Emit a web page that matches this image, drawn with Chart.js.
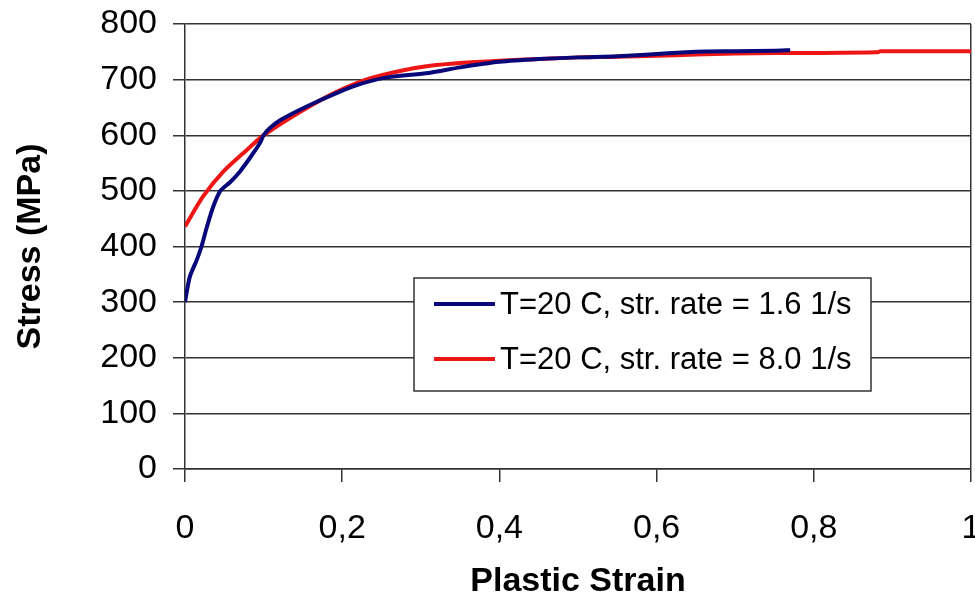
<!DOCTYPE html>
<html>
<head>
<meta charset="utf-8">
<script src="https://cdn.jsdelivr.net/npm/chart.js@4.4.1/dist/chart.umd.min.js"></script>
<style>
  html, body { margin: 0; padding: 0; background: #ffffff; }
  #wrap { width: 975px; height: 602px; }
</style>
</head>
<body>
<div id="wrap"><canvas id="stressChart" width="975" height="602"></canvas></div>
<script>
// Strain / stress readings for each test
const strainSlow = [0, 0.006, 0.015, 0.021, 0.028, 0.036, 0.045, 0.057, 0.070, 0.083, 0.095, 0.10, 0.108, 0.121, 0.145, 0.172, 0.214, 0.257, 0.31, 0.35, 0.40, 0.45, 0.50, 0.55, 0.60, 0.65, 0.70, 0.75, 0.77];
const stressSlow = [300, 345, 376, 400, 436, 472, 500, 515, 535, 560, 585, 600, 613, 627, 645, 663, 688, 704, 712, 722, 732, 737, 740, 742, 746, 750, 751, 752, 753];

const strainFast = [0, 0.023, 0.049, 0.079, 0.10, 0.15, 0.193, 0.235, 0.278, 0.312, 0.35, 0.40, 0.45, 0.50, 0.55, 0.60, 0.65, 0.70, 0.75, 0.80, 0.88, 0.885, 1.0];
const stressFast = [436, 490, 535, 574, 600, 645, 678, 702, 717, 725, 730, 734, 737, 740, 741, 743, 745, 747, 748, 748, 749, 751, 751];

const seriesLabels = ['T=20 C, str. rate = 1.6 1/s', 'T=20 C, str. rate = 8.0 1/s'];
const xTickLabels = ['0', '0,2', '0,4', '0,6', '0,8', '1'];

const FONT = "'Liberation Sans', Arial, sans-serif";
const AXIS = '#333333';

function toPoints(xs, ys) {
    return xs.map((x, i) => ({ x: x, y: ys[i] }));
}

// legend box drawn inside the plot, like the Excel original
const boxLegend = {
    id: 'boxLegend',
    afterDraw(chart) {
        const ctx = chart.ctx;
        const left = 414, top = 278, w = 457, h = 113;
        ctx.save();
        ctx.fillStyle = '#ffffff';
        ctx.fillRect(left, top, w, h);
        ctx.strokeStyle = AXIS;
        ctx.lineWidth = 1.5;
        ctx.strokeRect(left, top, w, h);
        ctx.font = '31px ' + FONT;
        ctx.textBaseline = 'middle';
        ctx.fillStyle = '#000000';
        chart.data.datasets.forEach((ds, i) => {
            const y = top + 26 + i * 55;
            ctx.strokeStyle = ds.borderColor;
            ctx.lineWidth = 4;
            ctx.beginPath();
            ctx.moveTo(left + 20, y);
            ctx.lineTo(left + 81, y);
            ctx.stroke();
            ctx.fillText(ds.label, left + 86, y + 1);
        });
        ctx.restore();
    }
};

const ctx = document.getElementById('stressChart').getContext('2d');
const stressChart = new Chart(ctx, {
    type: 'line',
    data: {
        datasets: [{
            label: seriesLabels[0],
            data: toPoints(strainSlow, stressSlow),
            borderColor: '#08087a',
            borderWidth: 4,
            pointRadius: 0,
            tension: 0.25
        }, {
            label: seriesLabels[1],
            data: toPoints(strainFast, stressFast),
            borderColor: '#ee1515',
            borderWidth: 4,
            pointRadius: 0,
            tension: 0.25
        }]
    },
    options: {
        responsive: false,
        animation: false,
        layout: { padding: { top: 24, right: 4, left: 0, bottom: 0 } },
        plugins: {
            legend: { display: false },
            tooltip: { enabled: false }
        },
        scales: {
            x: {
                type: 'linear',
                min: 0,
                max: 1,
                ticks: {
                    stepSize: 0.2,
                    color: '#000000',
                    font: { family: FONT, size: 34 },
                    padding: 26,
                    maxRotation: 0,
                    callback: (v, i) => xTickLabels[i]
                },
                grid: {
                    drawOnChartArea: true,
                    color: (c) => (c.tick && c.tick.value === 1) ? AXIS : 'rgba(0,0,0,0)',
                    tickColor: AXIS,
                    tickLength: 13,
                    lineWidth: 1.5
                },
                border: { color: AXIS, width: 1.5 },
                title: {
                    display: true,
                    text: 'Plastic Strain',
                    color: '#000000',
                    font: { family: FONT, size: 34, weight: 'bold' },
                    padding: { top: 0, bottom: 0 }
                },
                afterFit(scale) {
                    scale.height = 133;
                    scale.paddingLeft = 0;
                    scale.paddingRight = 0;
                }
            },
            y: {
                min: 0,
                max: 800,
                ticks: {
                    stepSize: 100,
                    color: '#000000',
                    font: { family: FONT, size: 34 },
                    padding: 16
                },
                grid: {
                    color: AXIS,
                    tickColor: AXIS,
                    tickLength: 12,
                    lineWidth: 1.5
                },
                border: { color: AXIS, width: 1.5 },
                title: {
                    display: true,
                    text: 'Stress (MPa)',
                    color: '#000000',
                    font: { family: FONT, size: 34, weight: 'bold' },
                    padding: { top: 10, bottom: 0 }
                },
                afterFit(scale) {
                    scale.width = 185;
                    scale.paddingTop = 0;
                    scale.paddingBottom = 0;
                }
            }
        }
    },
    plugins: [boxLegend]
});
</script>
</body>
</html>
